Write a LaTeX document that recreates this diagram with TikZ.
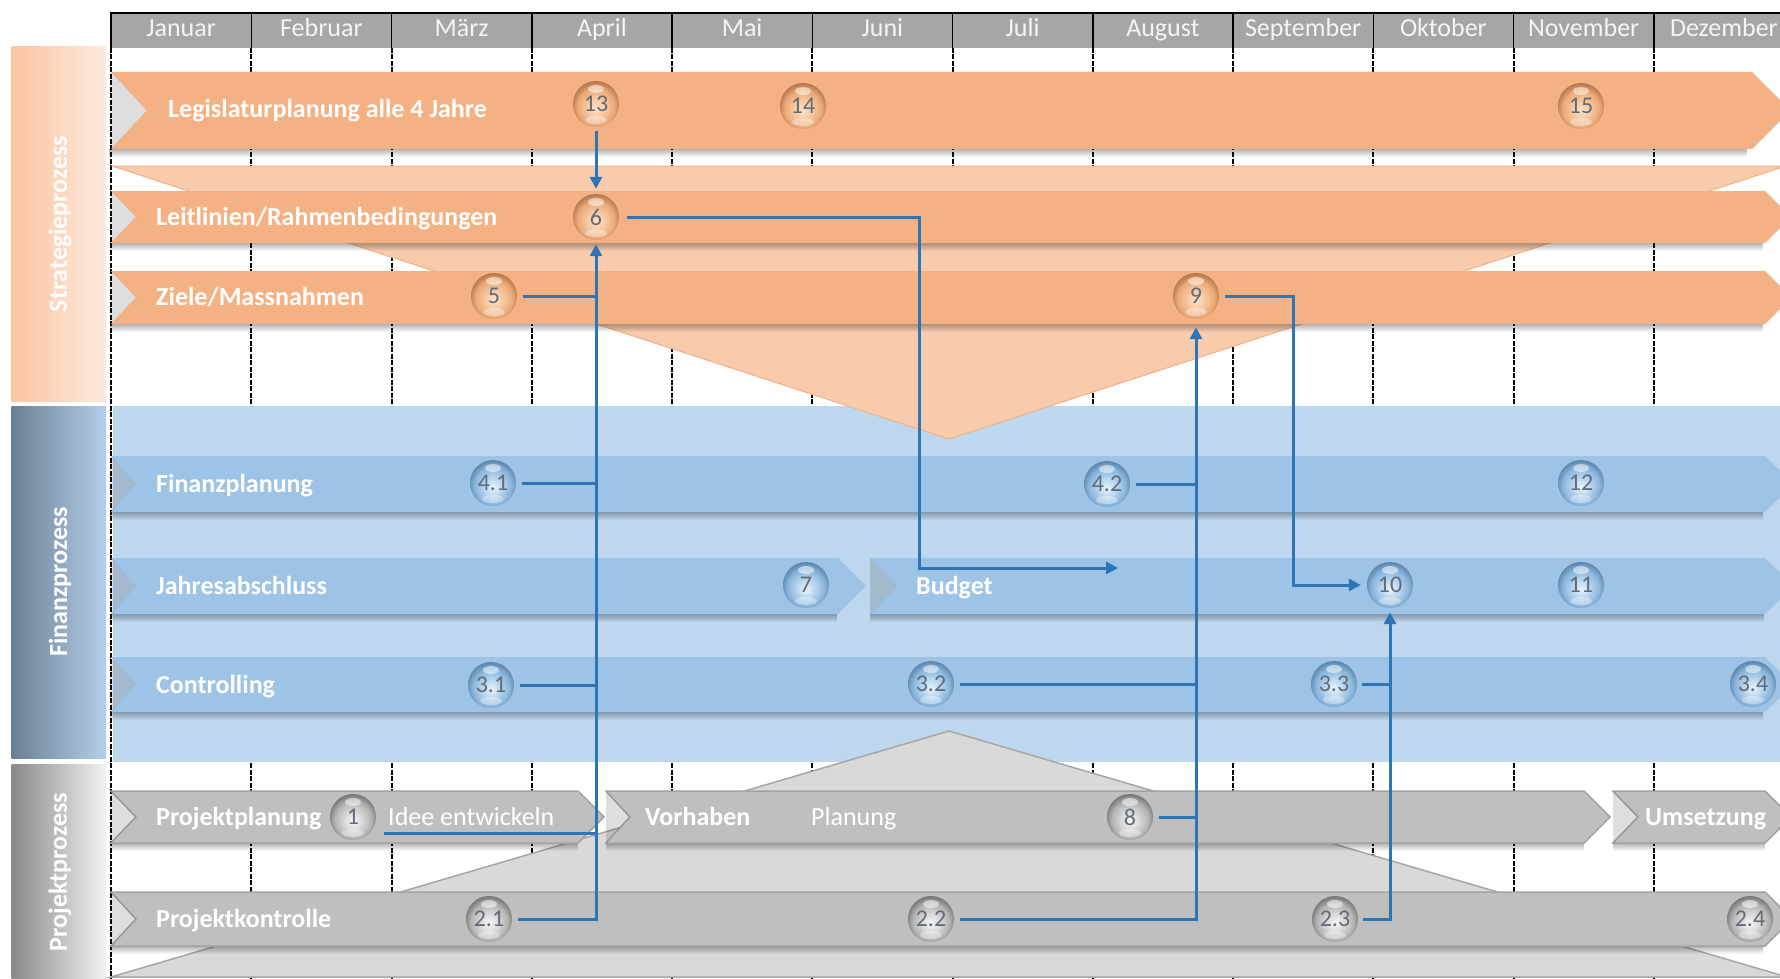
\documentclass[tikz,border=0pt]{standalone}
\usepackage{fontspec}
\setmainfont{Carlito}
\usetikzlibrary{arrows.meta,fadings,calc}
\definecolor{bandO}{HTML}{F4B183}
\definecolor{funO}{HTML}{F8CBAD}
\definecolor{bandB}{HTML}{9DC3E6}
\definecolor{bgB}{HTML}{BDD7EE}
\definecolor{bandG}{HTML}{BFBFBF}
\definecolor{bandGe}{HTML}{A3A3A3}
\definecolor{triG}{HTML}{D9D9D9}
\definecolor{triE}{HTML}{A6A6A6}
\definecolor{hdr}{HTML}{A6A6A6}
\definecolor{connblue}{HTML}{2E75B6}
\definecolor{numtext}{HTML}{626C78}
\definecolor{sL}{HTML}{FBC4A0}
\definecolor{sR}{HTML}{FDEBDF}
\definecolor{fL}{HTML}{6B7F93}
\definecolor{fR}{HTML}{B4CFEA}
\definecolor{pL}{HTML}{8A8A8A}
\definecolor{pR}{HTML}{F2F2F2}
\definecolor{oA}{HTML}{FCE2CA}
\definecolor{oB}{HTML}{F7CBA4}
\definecolor{oC}{HTML}{EBAA78}
\definecolor{oD}{HTML}{B7764A}
\definecolor{bA}{HTML}{EAF4FC}
\definecolor{bB}{HTML}{BCD9F1}
\definecolor{bC}{HTML}{8AB5DC}
\definecolor{bD}{HTML}{5C86AC}
\definecolor{gA}{HTML}{F7F7F7}
\definecolor{gB}{HTML}{DCDCDC}
\definecolor{gC}{HTML}{B3B3B3}
\definecolor{gD}{HTML}{777777}
\pgfdeclareradialshading{oballsh}{\pgfpoint{0bp}{-5bp}}{color(0bp)=(oA); color(9bp)=(oB); color(20bp)=(oC); color(27bp)=(oD); color(50bp)=(oD)}
\pgfdeclareradialshading{bballsh}{\pgfpoint{0bp}{-5bp}}{color(0bp)=(bA); color(9bp)=(bB); color(20bp)=(bC); color(27bp)=(bD); color(50bp)=(bD)}
\pgfdeclareradialshading{gballsh}{\pgfpoint{0bp}{-5bp}}{color(0bp)=(gA); color(9bp)=(gB); color(20bp)=(gC); color(27bp)=(gD); color(50bp)=(gD)}
% #1 style, #2 left x, #3 notch depth, #4 right corner x, #5 top y, #6 bottom y
\newcommand{\myband}[6]{%
  \fill[black,opacity=0.3,path fading=south] (#2,#6) rectangle (#4,#6+8);
  \path[#1] (#2,#5) -- (#4,#5) -- ({#4+(#6-#5)/2},{(#5+#6)/2}) -- (#4,#6) -- (#2,#6) -- ({#2+#3},{(#5+#6)/2}) -- cycle;
  \fill[black,opacity=0.13] (#2,#5) -- ({#2+#3},{(#5+#6)/2}) -- (#2,#6) -- cycle;
}
\begin{document}
\begin{tikzpicture}[x=1pt,y=-1pt,
  lbl/.style={font=\fontsize{26}{30}\selectfont\bfseries, text=white, inner sep=0pt, anchor=base west},
  lblr/.style={font=\fontsize{26}{30}\selectfont, text=white, inner sep=0pt, anchor=base west},
  hd/.style={font=\fontsize{26}{30}\selectfont, text=white!96!black, inner sep=0pt, anchor=base},
  proc/.style={font=\fontsize{26}{30}\selectfont\bfseries, text=white, rotate=90, inner sep=0pt},
  ballbase/.style={circle, minimum size=46pt, inner sep=0pt, text=numtext, font=\fontsize{24}{24}\selectfont,
    path picture={\fill[white,opacity=0.5] ([yshift=15pt]path picture bounding box.center) ellipse (8pt and 4pt);
                  \fill[white,opacity=0.35] ([yshift=-16pt]path picture bounding box.center) ellipse (11pt and 4pt);}},
  ob/.style={ballbase, shading=oballsh},
  bb/.style={ballbase, shading=bballsh},
  gb/.style={ballbase, shading=gballsh},
  conn/.style={draw=connblue, line width=3pt},
  arr/.style={conn, -{Triangle[length=12pt,width=12pt]}},
  gridl/.style={black, line width=2pt, dash pattern=on 5pt off 1.5pt}
]
\useasboundingbox (0,0) rectangle (1780,979);
\clip (0,0) rectangle (1780,979);
\fill[white] (0,0) rectangle (1780,979);
% grid lines
\foreach \k in {0,...,11} \draw[gridl] ({111+140.25*\k},48) -- ({111+140.25*\k},979);
% finance background
\fill[bgB] (113,406) rectangle (1780,762);
% funnel and project triangle
\filldraw[fill=funO, draw=bandO, line width=1pt] (112,166) -- (1786,166) -- (949,439) -- cycle;
\filldraw[fill=triG, draw=triE, line width=1.5pt] (949,731) -- (1787,977) -- (111,977) -- cycle;
% left process boxes
\shade[left color=sL, right color=sR] (11.5,47) rectangle (106,401);
\shade[left color=fL, right color=fR] (11.5,406) rectangle (106,758);
\shade[left color=pL, right color=pR] (11.5,764) rectangle (106,985);
\node[proc] (pS) at (60,224) {Strategieprozess};
\node[proc] (pF) at (60,582) {Finanzprozess};
\node[proc] (pP) at (60,872) {Projektprozess};
% header
\fill[hdr] (111,13) rectangle (1780,48);
\draw[black,line width=2pt] (110,13) -- (1780,13);
\foreach \k in {0,...,11} \draw[black,line width=1.5pt] ({111+140.25*\k},13) -- ({111+140.25*\k},48);
\foreach \m [count=\i from 0] in {Januar,Februar,März,April,Mai,Juni,Juli,August,September,Oktober,November,Dezember}
  \node[hd] (m\i) at ({181.125+140.25*\i},37) {\m};
% strategy bands
\myband{fill=bandO}{111}{36}{1752}{72}{149}
\myband{fill=bandO}{111}{25}{1765}{191}{243}
\myband{fill=bandO}{111}{25}{1765}{271}{324}
% finance bands
\myband{fill=bandB}{111}{25}{1765}{456}{512}
\myband{fill=bandB}{111}{25}{838}{558}{614}
\myband{fill=bandB}{870}{27}{1765}{558}{614}
\myband{fill=bandB}{111}{25}{1765}{657}{712}
% project bands
\myband{fill=bandG,draw=bandGe,line width=1.5pt}{111}{25}{578}{791}{843}
\myband{fill=bandG,draw=bandGe,line width=1.5pt}{606}{24}{1584}{791}{843}
\myband{fill=bandG,draw=bandGe,line width=1.5pt}{1613}{25}{1765}{791}{843}
\myband{fill=bandG,draw=bandGe,line width=1.5pt}{111}{25}{1765}{892}{946}
% band labels
\node[lbl] (tLeg) at (168,118) {Legislaturplanung alle 4 Jahre};
\node[lbl] (tLeit) at (156,225) {Leitlinien/Rahmenbedingungen};
\node[lbl] (tZiele) at (156,305) {Ziele/Massnahmen};
\node[lbl] (tFin) at (156,492) {Finanzplanung};
\node[lbl] (tJahr) at (156,594) {Jahresabschluss};
\node[lbl] (tBud) at (916,594) {Budget};
\node[lbl] (tCon) at (156,693) {Controlling};
\node[lbl] (tPP) at (156,825) {Projektplanung};
\node[lblr] (tIdee) at (388,825) {Idee entwickeln};
\node[lbl] (tVor) at (645,825) {Vorhaben};
\node[lblr] (tPlan) at (811,825) {Planung};
\node[lbl] (tUms) at (1645,825) {Umsetzung};
\node[lbl] (tPK) at (156,927) {Projektkontrolle};
% balls
\node[ob] (b13) at (596,104) {13};
\node[ob] (b14) at (803,106) {14};
\node[ob] (b15) at (1581,106) {15};
\node[ob] (b6) at (596,217) {6};
\node[ob] (b5) at (494,296) {5};
\node[ob] (b9) at (1196,296) {9};
\node[bb] (b41) at (493,483) {4.1};
\node[bb] (b42) at (1107,484) {4.2};
\node[bb] (b12) at (1581,483) {12};
\node[bb] (b7) at (806,585) {7};
\node[bb] (b10) at (1390,585) {10};
\node[bb] (b11) at (1581,585) {11};
\node[bb] (b31) at (491,685) {3.1};
\node[bb] (b32) at (931,684) {3.2};
\node[bb] (b33) at (1334,684) {3.3};
\node[bb] (b34) at (1753,684) {3.4};
\node[gb] (b1) at (353,817) {1};
\node[gb] (b8) at (1130,817) {8};
\node[gb] (b21) at (489,919) {2.1};
\node[gb] (b22) at (931,919) {2.2};
\node[gb] (b23) at (1335,919) {2.3};
\node[gb] (b24) at (1750,919) {2.4};
\coordinate (budgetend) at (1118,568);
% connectors
\draw[arr, shorten <=4pt, shorten >=5pt] (b13) -- (b6);
\draw[arr, shorten <=6pt, shorten >=4pt] (b21.east) -| (b6.south);
\draw[conn, shorten <=6pt] (b5.east) -- (b5.east -| b6.south);
\draw[conn, shorten <=6pt] (b41.east) -- (b41.east -| b6.south);
\draw[conn, shorten <=6pt] (b31.east) -- (b31.east -| b6.south);
\draw[conn, shorten <=8pt] ([yshift=-16pt]b1.east) -- ([yshift=-16pt]b1.east -| b6.south);
\draw[arr, shorten <=8pt] (b6.east) -- ++(300,0) |- (budgetend);
\draw[arr, shorten <=6pt, shorten >=8pt] (b22.east) -| (b9.south);
\draw[conn, shorten <=6pt] (b42.east) -- (b42.east -| b9.south);
\draw[conn, shorten <=6pt] (b32.east) -- (b32.east -| b9.south);
\draw[conn, shorten <=6pt] (b8.east) -- (b8.east -| b9.south);
\draw[arr, shorten <=6pt, shorten >=6pt] (b9.east) -- ++(74,0) |- (b10.west);
\draw[arr, shorten <=5pt, shorten >=4pt] (b23.east) -| (b10.south);
\draw[conn, shorten <=5pt] (b33.east) -- (b33.east -| b10.south);
\end{tikzpicture}
\end{document}
